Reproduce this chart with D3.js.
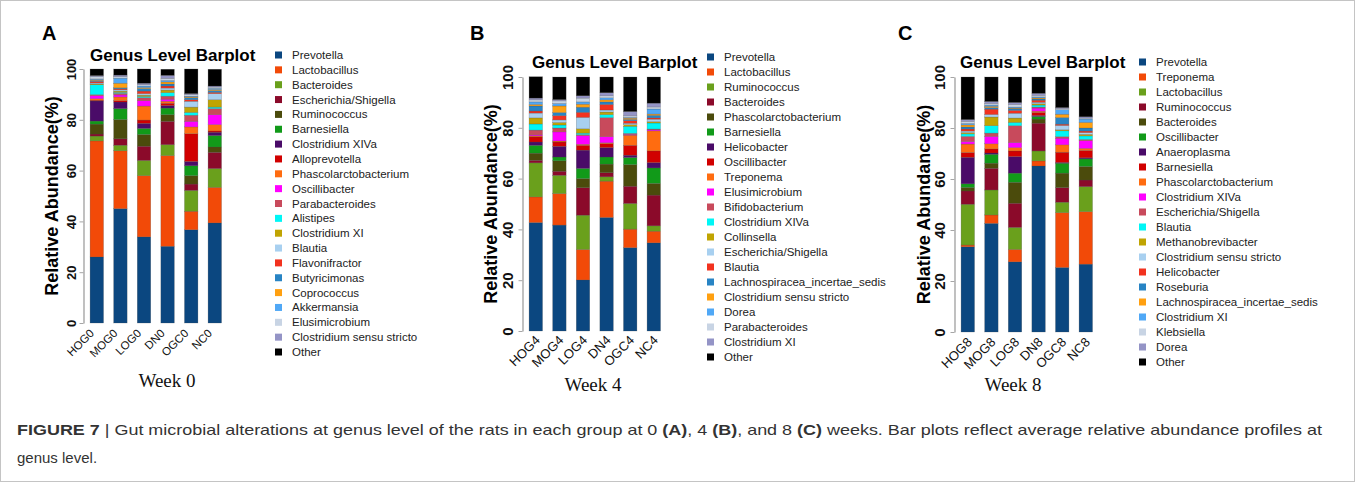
<!DOCTYPE html>
<html>
<head>
<meta charset="utf-8">
<script src="https://cdn.jsdelivr.net/npm/d3@7"></script>
<style>
  html, body { margin: 0; padding: 0; background: #fff; }
  svg { display: block; font-family: Arial, "Liberation Sans", sans-serif; }
</style>
</head>
<body>
<svg id="fig" width="1355" height="482"></svg>
<script>
// Shared colour order used by all three genus barplots (bottom of stack first, "Other" on top)
const stackColors = [
  "#0b4780", "#f24a08", "#6aa01c", "#8b0a2a", "#4b4b0c", "#119a19", "#4a0b68",
  "#d10000", "#ff6c10", "#ff00ff", "#c84a5c", "#00f6f6", "#c0a402", "#a8d0f0",
  "#f2321f", "#2884c4", "#ffa010", "#50a8f6", "#c8d4e4", "#9494c6", "#000000"
];

// ---------- Week 0 ----------
const groupsWeek0 = ["HOG0", "MOG0", "LOG0", "DN0", "OGC0", "NC0"];
const taxaWeek0 = [
  "Prevotella", "Lactobacillus", "Bacteroides", "Escherichia/Shigella", "Ruminococcus",
  "Barnesiella", "Clostridium XIVa", "Alloprevotella", "Phascolarctobacterium", "Oscillibacter",
  "Parabacteroides", "Alistipes", "Clostridium XI", "Blautia", "Flavonifractor",
  "Butyricimonas", "Coprococcus", "Akkermansia", "Elusimicrobium", "Clostridium sensu stricto", "Other"
];
const abundanceHOG0 = [26.0, 45.7, 1.9, 0.8, 3.9, 1.2, 7.9, 0.3, 0.6, 1.2, 0.4, 3.9, 0.3, 0.4, 0.6, 0.4, 0.3, 0.3, 0.9, 0.4, 2.6];
const abundanceMOG0 = [45.0, 22.8, 2.2, 2.5, 7.6, 4.3, 2.6, 0.5, 1.5, 0.8, 0.6, 0.4, 0.5, 0.5, 0.4, 0.4, 1.8, 2.0, 0.6, 0.6, 2.4];
const abundanceLOG0 = [33.9, 24.1, 6.0, 5.6, 4.6, 2.4, 2.0, 1.3, 5.5, 2.1, 1.2, 0.5, 0.5, 0.6, 1.0, 1.0, 0.4, 0.6, 0.5, 0.6, 5.6];
const abundanceDN0  = [30.2, 35.7, 4.3, 9.2, 2.6, 2.6, 1.0, 0.9, 0.8, 0.8, 1.2, 1.4, 1.0, 0.8, 0.8, 0.8, 0.8, 0.6, 0.8, 1.2, 2.4];
const abundanceOGC0 = [36.7, 7.3, 8.2, 2.5, 3.3, 3.9, 1.7, 10.9, 2.7, 2.2, 2.4, 1.1, 2.1, 2.3, 0.6, 0.8, 0.3, 0.3, 0.6, 0.4, 9.7];
const abundanceNC0  = [39.4, 14.0, 7.4, 6.4, 2.1, 4.5, 1.3, 0.5, 2.5, 3.9, 2.4, 0.6, 2.9, 2.4, 0.5, 0.7, 0.4, 0.5, 0.5, 0.4, 6.6];

// ---------- Week 4 ----------
const groupsWeek4 = ["HOG4", "MOG4", "LOG4", "DN4", "OGC4", "NC4"];
const taxaWeek4 = [
  "Prevotella", "Lactobacillus", "Ruminococcus", "Bacteroides", "Phascolarctobacterium",
  "Barnesiella", "Helicobacter", "Oscillibacter", "Treponema", "Elusimicrobium",
  "Bifidobacterium", "Clostridium XIVa", "Collinsella", "Escherichia/Shigella", "Blautia",
  "Lachnospiracea_incertae_sedis", "Clostridium sensu stricto", "Dorea", "Parabacteroides", "Clostridium XI", "Other"
];
const abundanceHOG4 = [42.7, 10.1, 13.4, 1.0, 2.8, 3.1, 1.3, 2.0, 0.4, 0.4, 1.9, 2.4, 2.4, 1.9, 0.8, 2.0, 0.6, 1.0, 0.8, 0.7, 8.4];
const abundanceMOG4 = [41.7, 12.4, 7.2, 1.6, 4.1, 1.5, 4.2, 1.7, 0.4, 3.6, 1.5, 1.2, 1.0, 1.0, 1.7, 1.2, 2.6, 1.0, 1.0, 0.5, 8.9];
const abundanceLOG4 = [20.1, 12.0, 13.5, 10.8, 3.6, 4.0, 7.2, 1.9, 0.4, 3.4, 0.4, 0.6, 1.7, 4.5, 2.0, 2.0, 1.2, 0.9, 1.5, 0.9, 7.4];
const abundanceDN4  = [44.7, 14.3, 1.7, 1.6, 3.4, 2.8, 3.7, 1.6, 0.3, 2.4, 7.5, 1.2, 1.0, 0.8, 2.2, 1.0, 0.8, 0.8, 0.8, 1.2, 6.2];
const abundanceOGC4 = [32.8, 7.3, 10.1, 6.8, 8.5, 2.8, 0.9, 3.9, 4.0, 0.3, 0.4, 2.8, 0.6, 0.6, 1.0, 0.5, 0.5, 0.3, 0.6, 1.7, 13.6];
const abundanceNC4  = [34.7, 4.6, 2.1, 12.1, 4.6, 6.1, 2.1, 4.6, 7.9, 0.4, 0.3, 2.4, 0.5, 1.0, 0.5, 1.0, 0.5, 2.0, 0.8, 1.5, 10.3];

// ---------- Week 8 ----------
const groupsWeek8 = ["HOG8", "MOG8", "LOG8", "DN8", "OGC8", "NC8"];
const taxaWeek8 = [
  "Prevotella", "Treponema", "Lactobacillus", "Ruminococcus", "Bacteroides",
  "Oscillibacter", "Anaeroplasma", "Barnesiella", "Phascolarctobacterium", "Clostridium XIVa",
  "Escherichia/Shigella", "Blautia", "Methanobrevibacter", "Clostridium sensu stricto", "Helicobacter",
  "Roseburia", "Lachnospiracea_incertae_sedis", "Clostridium XI", "Klebsiella", "Dorea", "Other"
];
const abundanceHOG8 = [33.4, 0.7, 16.0, 5.2, 1.4, 1.4, 10.4, 1.9, 3.3, 1.0, 2.0, 1.0, 0.5, 0.6, 0.8, 0.8, 0.8, 0.6, 0.8, 0.7, 16.7];
const abundanceMOG8 = [42.6, 3.3, 9.8, 8.5, 2.0, 3.5, 0.5, 1.6, 2.0, 2.9, 1.3, 2.9, 3.4, 1.0, 2.1, 0.6, 0.5, 0.5, 0.6, 0.8, 9.6];
const abundanceLOG8 = [27.5, 4.9, 8.6, 9.5, 8.2, 3.6, 6.5, 2.2, 1.3, 2.0, 6.6, 1.3, 1.7, 1.9, 1.1, 0.6, 0.3, 0.4, 1.0, 0.8, 10.0];
const abundanceDN8  = [65.1, 2.0, 3.9, 10.9, 1.6, 1.0, 0.4, 1.2, 0.5, 1.2, 0.4, 0.8, 0.5, 0.6, 0.8, 0.5, 0.4, 0.4, 0.6, 0.8, 6.4];
const abundanceOGC8 = [25.3, 21.5, 4.1, 5.7, 5.7, 3.9, 0.3, 4.0, 2.9, 2.6, 0.6, 2.3, 0.4, 1.7, 0.5, 2.6, 1.3, 1.8, 0.4, 0.4, 12.0];
const abundanceNC8  = [26.6, 20.6, 9.8, 2.6, 5.3, 3.0, 0.4, 2.9, 0.8, 3.0, 0.5, 1.4, 0.6, 0.7, 0.6, 1.2, 2.2, 1.3, 0.4, 0.5, 15.6];

const yTicks = [0, 20, 40, 60, 80, 100];

const svg = d3.select("#fig");

// outer frame of the figure
svg.append("rect")
  .attr("x", 0.5).attr("y", 0.5).attr("width", 1354).attr("height", 481)
  .attr("fill", "none").attr("stroke", "#c4c4c4").attr("stroke-width", 1);

function drawPanel(p) {
  const g = svg.append("g");

  const x = d3.scaleBand()
    .domain(p.groups)
    .range([p.x0, p.x0 + p.groups.length * 23.6])
    .paddingInner(0.43)
    .paddingOuter(0.215);
  const y = d3.scaleLinear().domain([0, 100]).range([p.yBottom, p.yTop]);

  const rows = p.groups.map((grp, i) => {
    const row = { group: grp };
    p.taxa.forEach((t, j) => { row[t] = p.values[i][j]; });
    return row;
  });
  const series = d3.stack().keys(p.taxa)(rows);

  // stacked bars
  g.selectAll("g.layer")
    .data(series)
    .join("g")
    .attr("class", "layer")
    .attr("fill", (d, i) => stackColors[i])
    .selectAll("rect")
    .data(d => d)
    .join("rect")
    .attr("x", d => x(d.data.group))
    .attr("width", x.bandwidth())
    .attr("y", d => y(d[1]))
    .attr("height", d => Math.max(0, y(d[0]) - y(d[1])))
    .attr("stroke", "rgba(70,70,70,0.45)")
    .attr("stroke-width", 0.5);

  // y axis
  const axis = g.append("g")
    .attr("transform", `translate(${p.x0 - 1.5},0)`)
    .call(d3.axisLeft(y).tickValues(yTicks).tickSize(4).tickSizeOuter(0));
  axis.select(".domain").attr("stroke", "#a6a6a6").attr("stroke-width", 1.4);
  axis.selectAll(".tick line").attr("stroke", "#a6a6a6").attr("stroke-width", 1);
  axis.selectAll(".tick text")
    .attr("x", null).attr("dy", null)
    .attr("transform", `translate(${-p.tickGap},0) rotate(-90)`)
    .attr("text-anchor", "middle")
    .attr("fill", "#111")
    .style("font-size", p.tickFont + "px")
    .style("font-weight", "bold");

  // group labels
  g.append("g").selectAll("text")
    .data(p.groups)
    .join("text")
    .attr("transform", d => `translate(${x(d) + x.bandwidth() / 2 + p.labelDx},${p.yBottom + p.labelDy}) rotate(-45)`)
    .attr("text-anchor", "end")
    .attr("fill", "#111")
    .style("font-size", p.labelFont + "px")
    .text(d => d);

  // y title
  g.append("text")
    .attr("transform", `translate(${p.yTitleX},${(p.yTop + p.yBottom) / 2}) rotate(-90)`)
    .attr("text-anchor", "middle")
    .attr("fill", "#000")
    .style("font-size", "18px")
    .style("font-weight", "bold")
    .text("Relative Abundance(%)");

  // plot title
  g.append("text")
    .attr("x", p.titleX).attr("y", p.titleY)
    .attr("fill", "#000")
    .style("font-size", "17px")
    .style("font-weight", "bold")
    .text("Genus Level Barplot");

  // panel letter
  g.append("text")
    .attr("x", p.letterX).attr("y", 40)
    .attr("fill", "#000")
    .style("font-size", "20px")
    .style("font-weight", "bold")
    .text(p.letter);

  // week caption
  g.append("text")
    .attr("x", p.weekX).attr("y", p.weekY)
    .attr("text-anchor", "middle")
    .attr("fill", "#111")
    .style("font-family", "'Liberation Serif', 'Times New Roman', serif")
    .style("font-size", "19px")
    .text(p.week);

  // legend
  const leg = g.append("g").selectAll("g")
    .data(p.taxa)
    .join("g")
    .attr("transform", (d, i) => `translate(${p.legendX},${p.legendY + i * p.legendStep})`);
  leg.append("rect")
    .attr("x", 0).attr("y", -3.5).attr("width", 7).attr("height", 7)
    .attr("fill", (d, i) => stackColors[i]);
  leg.append("text")
    .attr("x", p.legendTextDx).attr("y", 0).attr("dy", "0.35em")
    .attr("fill", "#222")
    .style("font-size", "11.5px")
    .text(d => d);
}

drawPanel({
  letter: "A", letterX: 42, week: "Week 0", weekX: 167, weekY: 387,
  groups: groupsWeek0, taxa: taxaWeek0,
  values: [abundanceHOG0, abundanceMOG0, abundanceLOG0, abundanceDN0, abundanceOGC0, abundanceNC0],
  x0: 85, yBottom: 323, yTop: 69,
  tickGap: 8, tickFont: 13, labelFont: 11.5, labelDx: -2, labelDy: 11,
  yTitleX: 58, titleX: 90, titleY: 61,
  legendX: 275, legendY: 55, legendStep: 14.85, legendTextDx: 17
});

drawPanel({
  letter: "B", letterX: 470, week: "Week 4", weekX: 593, weekY: 391,
  groups: groupsWeek4, taxa: taxaWeek4,
  values: [abundanceHOG4, abundanceMOG4, abundanceLOG4, abundanceDN4, abundanceOGC4, abundanceNC4],
  x0: 524, yBottom: 331, yTop: 77,
  tickGap: 10, tickFont: 15, labelFont: 13, labelDx: 5, labelDy: 10,
  yTitleX: 497, titleX: 532, titleY: 68,
  legendX: 707, legendY: 57, legendStep: 15, legendTextDx: 17
});

drawPanel({
  letter: "C", letterX: 898, week: "Week 8", weekX: 1013, weekY: 391,
  groups: groupsWeek8, taxa: taxaWeek8,
  values: [abundanceHOG8, abundanceMOG8, abundanceLOG8, abundanceDN8, abundanceOGC8, abundanceNC8],
  x0: 956, yBottom: 332, yTop: 77,
  tickGap: 10, tickFont: 15, labelFont: 13, labelDx: 5, labelDy: 11,
  yTitleX: 930, titleX: 960, titleY: 68,
  legendX: 1139, legendY: 62, legendStep: 15, legendTextDx: 17
});

// figure caption
const cap = svg.append("g").attr("fill", "#333").style("font-size", "15px");
const line1 = cap.append("text")
  .attr("x", 17).attr("y", 435)
  .attr("textLength", 1305).attr("lengthAdjust", "spacingAndGlyphs");
[
  ["FIGURE 7", true], [" | Gut microbial alterations at genus level of the rats in each group at 0 ", false],
  ["(A)", true], [", 4 ", false], ["(B)", true], [", and 8 ", false], ["(C)", true],
  [" weeks. Bar plots reflect average relative abundance profiles at", false]
].forEach(([t, b]) => {
  line1.append("tspan").style("font-weight", b ? "bold" : "normal").text(t);
});
cap.append("text").attr("x", 17).attr("y", 463).text("genus level.");
</script>
</body>
</html>
